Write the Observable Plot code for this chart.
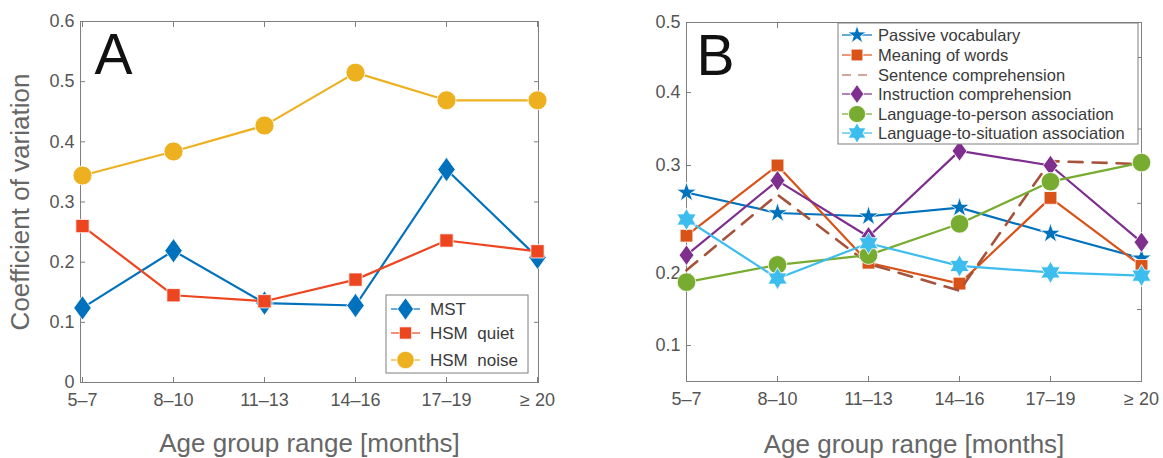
<!DOCTYPE html>
<html><head><meta charset="utf-8">
<script src="https://cdn.jsdelivr.net/npm/d3@7"></script>
<script src="https://cdn.jsdelivr.net/npm/@observablehq/plot@0.6"></script>
<style>
body{margin:0;background:#fff;}
#wrap{position:relative;width:1163px;height:458px;overflow:hidden;font-family:"Liberation Sans",Arial,sans-serif;}
#wrap > svg{position:absolute;top:0;overflow:visible;}
</style></head><body><div id="wrap"></div>
<script>
// ---------- data ----------
const ages = ["5–7", "8–10", "11–13", "14–16", "17–19", "≥ 20"];

// Panel A
const seriesA = ["MST", "HSM  quiet", "HSM  noise"];
const mstCV = [0.124, 0.219, 0.132, 0.128, 0.354, 0.208];
const hsmQuietCV = [0.260, 0.145, 0.135, 0.171, 0.236, 0.218];
const hsmNoiseCV = [0.344, 0.384, 0.427, 0.515, 0.469, 0.469];
const yTicksA = [0, 0.1, 0.2, 0.3, 0.4, 0.5, 0.6];

// Panel B
const seriesB = ["Passive vocabulary", "Meaning of words", "Sentence comprehension",
  "Instruction comprehension", "Language-to-person association", "Language-to-situation association"];
const passiveVocabulary = [0.275, 0.256, 0.253, 0.261, 0.237, 0.214];
const meaningOfWords = [0.235, 0.300, 0.210, 0.186, 0.270, 0.207];
const sentenceComprehension = [0.203, 0.273, 0.209, 0.176, 0.306, 0.302];
const instructionComprehension = [0.217, 0.286, 0.234, 0.320, 0.300, 0.229];
const languageToPerson = [0.188, 0.208, 0.217, 0.246, 0.285, 0.304];
const languageToSituation = [0.250, 0.193, 0.228, 0.207, 0.201, 0.197];
const yTicksB = [0.1, 0.2, 0.3, 0.4, 0.5];
const yTicksBRight = [0.15, 0.265, 0.35, 0.45];
const yBreaksB = [0.05, 0.1, 0.2, 0.3, 0.4, 0.5];

// ---------- symbols ----------
const diamondSym = {draw(ctx, size) {
  const r = Math.sqrt(size / Math.PI), h = r * 1.6, w = r * 1.15;
  ctx.moveTo(0, -h); ctx.lineTo(w, 0); ctx.lineTo(0, h); ctx.lineTo(-w, 0); ctx.closePath();
}};
const hexagramSym = {draw(ctx, size) {
  const R = Math.sqrt(size / Math.PI) * 1.5, ri = R * 0.577;
  for (let i = 0; i < 12; i++) {
    const a = Math.PI * i / 6 - Math.PI / 2, rr = i % 2 ? ri : R;
    const px = rr * Math.cos(a), py = rr * Math.sin(a);
    if (i === 0) ctx.moveTo(px, py); else ctx.lineTo(px, py);
  }
  ctx.closePath();
}};

const specA = [
  {name: seriesA[0], values: mstCV, color: "#0072BD", symbol: diamondSym, r: 7.6},
  {name: seriesA[1], values: hsmQuietCV, color: "#EE4521", symbol: "square", r: 7.5},
  {name: seriesA[2], values: hsmNoiseCV, color: "#EDB120", symbol: "circle", r: 9.5}
];
const specB = [
  {name: seriesB[0], values: passiveVocabulary, color: "#0072BD", symbol: "star", r: 6.3},
  {name: seriesB[1], values: meaningOfWords, color: "#D95319", symbol: "square", r: 7.2},
  {name: seriesB[2], values: sentenceComprehension, color: "#A5533B", symbol: null, dash: "14,10"},
  {name: seriesB[3], values: instructionComprehension, color: "#7E2F8E", symbol: diamondSym, r: 6.4},
  {name: seriesB[4], values: languageToPerson, color: "#77AC30", symbol: "circle", r: 9.3},
  {name: seriesB[5], values: languageToSituation, color: "#3DBDEE", symbol: hexagramSym, r: 7.4}
];

const FONT = "Liberation Sans, Arial, sans-serif";
const AX = "#7f7f7f", TX = "#555";

function seriesMarks(spec) {
  const marks = [];
  for (const s of spec) {
    const d = ages.map((a, i) => ({age: a, v: s.values[i]}));
    marks.push(Plot.line(d, {x: "age", y: "v", stroke: s.color, strokeWidth: s.dash ? 2.6 : 2.2, strokeDasharray: s.dash}));
    if (s.symbol) marks.push(Plot.dot(d, {x: "age", y: "v", symbol: s.symbol, r: s.r, fill: s.color, stroke: "white", strokeWidth: 0.8}));
  }
  return marks;
}
function axesMarks(yTicks, yRightTicks, fmt) {
  return [
    Plot.frame({stroke: AX}),
    Plot.axisY({anchor: "left", ticks: yTicks, tickSize: -5, tickPadding: 11, tickFormat: fmt, fontSize: 18, stroke: AX, fill: TX, label: null}),
    Plot.axisY({anchor: "right", ticks: yRightTicks, tickSize: -5, tickFormat: () => "", stroke: AX, label: null}),
    Plot.axisX({anchor: "bottom", ticks: ages, tickSize: -5, tickPadding: 16, fontSize: 18, stroke: AX, fill: TX, label: null}),
    Plot.axisX({anchor: "top", ticks: ages, tickSize: -5, tickFormat: () => "", stroke: AX, label: null})
  ];
}

// ---------- Panel A ----------
const plotA = Plot.plot({
  width: 580, height: 458,
  marginLeft: 80, marginRight: 42, marginTop: 21, marginBottom: 76,
  style: {fontFamily: FONT, background: "transparent", overflow: "visible"},
  x: {type: "point", domain: ages, padding: 0},
  y: {domain: [0, 0.6]},
  marks: [
    ...axesMarks(yTicksA, yTicksA, d => d === 0 ? "0" : d.toFixed(1)),
    ...seriesMarks(specA),
    Plot.text(["A"], {text: d => d, frameAnchor: "top-left", dx: 14, dy: 12, fontSize: 57, fill: "#111", textAnchor: "start", lineAnchor: "top"}),
    Plot.text(["Coefficient of variation"], {text: d => d, frameAnchor: "left", dx: -60, rotate: -90, fontSize: 26, fill: "#666", textAnchor: "middle", lineAnchor: "middle"}),
    Plot.text(["Age group range [months]"], {text: d => d, frameAnchor: "bottom", dy: 61, fontSize: 26, fill: "#666", textAnchor: "middle", lineAnchor: "middle"})
  ]
});
plotA.style.left = "0px";

// ---------- Panel B ----------
const plotB = Plot.plot({
  width: 583, height: 458,
  marginLeft: 106, marginRight: 22, marginTop: 22, marginBottom: 77,
  style: {fontFamily: FONT, background: "transparent", overflow: "visible"},
  x: {type: "point", domain: ages, padding: 0},
  y: {type: "linear", domain: yBreaksB, range: [381, 345, 273, 165, 92, 22]},
  marks: [
    ...axesMarks(yTicksB, yTicksBRight, d => d.toFixed(1)),
    ...seriesMarks(specB),
    Plot.text(["B"], {text: d => d, frameAnchor: "top-left", dx: 10, dy: 12, fontSize: 57, fill: "#111", textAnchor: "start", lineAnchor: "top"}),
    Plot.text(["Age group range [months]"], {text: d => d, frameAnchor: "bottom", dy: 63, fontSize: 26, fill: "#666", textAnchor: "middle", lineAnchor: "middle"})
  ]
});
plotB.style.left = "580px";

const wrap = document.getElementById("wrap");
wrap.appendChild(plotA);
wrap.appendChild(plotB);

// ---------- Legends ----------
const ov = d3.select(wrap).append("svg").attr("width", 1163).attr("height", 458)
  .style("left", "0px").style("pointer-events", "none").style("font-family", FONT);

function legend(spec, box, rows, lx0, lx1, mx, tx, fs) {
  const g = ov.append("g");
  g.append("rect").attr("x", box[0]).attr("y", box[1]).attr("width", box[2] - box[0]).attr("height", box[3] - box[1])
    .attr("fill", "white").attr("stroke", AX).attr("stroke-width", 1);
  spec.forEach((s, i) => {
    const y = rows[i];
    g.append("line").attr("x1", lx0).attr("x2", lx1).attr("y1", y).attr("y2", y)
      .attr("stroke", s.color).attr("stroke-width", 1.2).attr("stroke-dasharray", s.dash ? "9,7" : null);
    if (s.symbol) {
      const t = typeof s.symbol === "string" ? {circle: d3.symbolCircle, square: d3.symbolSquare, star: d3.symbolStar}[s.symbol] : s.symbol;
      g.append("path").attr("transform", `translate(${mx},${y})`)
        .attr("d", d3.symbol(t, Math.PI * s.r * s.r * 0.85)()).attr("fill", s.color).attr("stroke", "white").attr("stroke-width", 0.8);
    }
    g.append("text").attr("x", tx).attr("y", y).attr("dy", "0.35em").attr("font-size", fs)
      .attr("fill", "#3a3a3a").style("white-space", "pre").attr("xml:space", "preserve").text(s.name);
  });
}
legend(specA, [386, 295, 528, 373], [309, 333, 360], 391, 420, 405.5, 430, 17);
legend(specB, [838, 23, 1138, 144], [35, 55, 75, 94, 114, 133], 842, 872, 857, 878, 16.5);
</script>
</body></html>
